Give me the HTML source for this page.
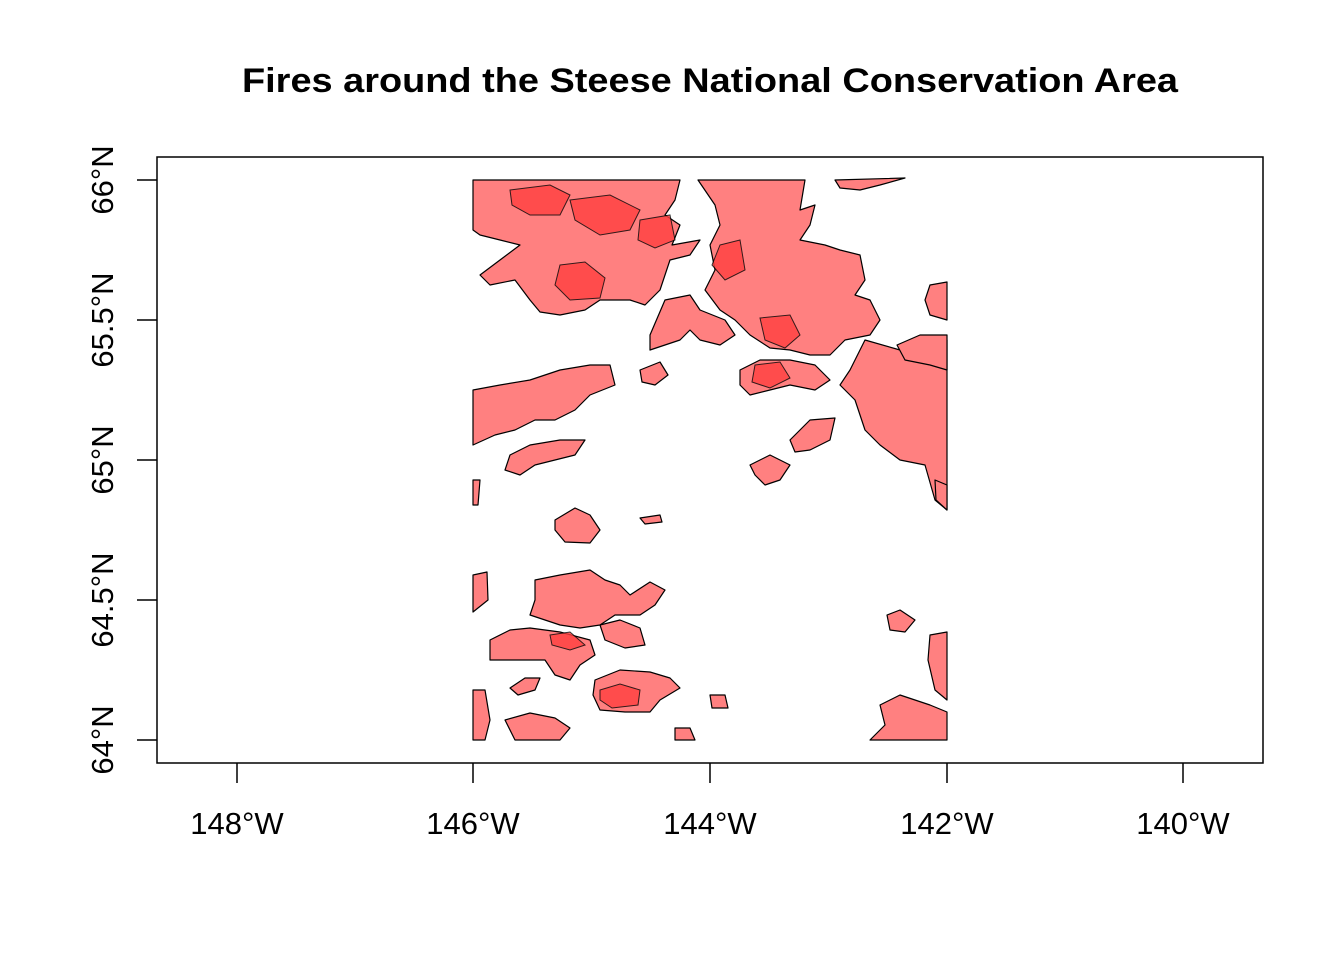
<!DOCTYPE html>
<html><head><meta charset="utf-8"><style>
body{margin:0;background:#fff}
svg{display:block}
text{font-family:"Liberation Sans",Arial,sans-serif}
</style></head><body>
<svg width="1344" height="960" viewBox="0 0 1344 960" xmlns="http://www.w3.org/2000/svg">
<rect width="1344" height="960" fill="#fff"/>
<text x="710" y="92" text-anchor="middle" font-size="34" font-weight="bold" textLength="936" lengthAdjust="spacingAndGlyphs">Fires around the Steese National Conservation Area</text>
<rect x="157" y="157" width="1106" height="606" fill="none" stroke="#000" stroke-width="1.5"/>
<g stroke="#000" stroke-width="1.5">
<line x1="237" y1="763" x2="237" y2="783"/><line x1="473" y1="763" x2="473" y2="783"/><line x1="710" y1="763" x2="710" y2="783"/><line x1="947" y1="763" x2="947" y2="783"/><line x1="1183" y1="763" x2="1183" y2="783"/>
<line x1="157" y1="180" x2="137" y2="180"/><line x1="157" y1="320" x2="137" y2="320"/><line x1="157" y1="460" x2="137" y2="460"/><line x1="157" y1="600" x2="137" y2="600"/><line x1="157" y1="740" x2="137" y2="740"/>
</g>
<g font-size="31" text-anchor="middle">
<text x="237" y="834">148°W</text><text x="473" y="834">146°W</text><text x="710" y="834">144°W</text><text x="947" y="834">142°W</text><text x="1183" y="834">140°W</text>
<text transform="translate(113,180) rotate(-90)">66°N</text>
<text transform="translate(113,320) rotate(-90)">65.5°N</text>
<text transform="translate(113,460) rotate(-90)">65°N</text>
<text transform="translate(113,600) rotate(-90)">64.5°N</text>
<text transform="translate(113,740) rotate(-90)">64°N</text>
</g>
<g fill="#FF8080" stroke="#000" stroke-width="1.2" stroke-linejoin="round">
<path d="M473 180 L680 180 L675 200 L665 215 L680 225 L672 245 L700 240 L690 255 L670 260 L660 290 L645 305 L630 300 L600 300 L585 310 L560 315 L540 312 L530 300 L515 280 L490 285 L480 275 L500 260 L520 245 L500 240 L480 235 L473 230 Z"/>
<path d="M698 180 L805 180 L800 210 L815 205 L810 225 L800 240 L825 245 L840 250 L860 255 L865 280 L855 295 L870 300 L880 320 L870 335 L845 340 L830 355 L810 355 L790 350 L770 348 L750 335 L735 320 L720 310 L705 290 L715 270 L710 245 L720 225 L715 205 Z"/>
<path d="M835 180 L905 178 L880 185 L860 190 L840 188 Z"/>
<path d="M865 340 L900 350 L930 345 L947 340 L947 510 L935 500 L925 465 L900 460 L880 445 L865 430 L855 400 L840 385 L850 370 Z"/>
<path d="M897 345 L920 335 L947 335 L947 370 L930 365 L905 360 Z"/>
<path d="M930 285 L947 282 L947 320 L930 315 L925 300 Z"/>
<path d="M473 390 L500 385 L530 380 L560 370 L590 365 L610 365 L615 385 L590 395 L575 410 L555 420 L535 420 L515 430 L495 435 L473 445 Z"/>
<path d="M510 455 L530 445 L560 440 L585 440 L575 455 L555 460 L535 465 L520 475 L505 470 Z"/>
<path d="M665 300 L690 295 L700 310 L725 320 L735 335 L720 345 L700 340 L690 330 L680 340 L665 345 L650 350 L650 335 Z"/>
<path d="M740 370 L760 360 L790 360 L815 365 L830 380 L815 390 L790 385 L770 390 L750 395 L740 385 Z"/>
<path d="M790 440 L810 420 L835 418 L830 440 L810 450 L795 452 Z"/>
<path d="M750 465 L770 455 L790 465 L780 480 L765 485 L755 475 Z"/>
<path d="M640 370 L660 362 L668 375 L655 385 L642 382 Z"/>
<path d="M555 520 L575 508 L590 515 L600 530 L590 543 L565 542 L555 530 Z"/>
<path d="M535 580 L560 575 L590 570 L605 580 L620 585 L630 595 L650 582 L665 590 L655 605 L640 615 L615 615 L600 625 L580 628 L560 625 L545 620 L530 615 L535 600 Z"/>
<path d="M490 640 L510 630 L530 628 L560 632 L590 640 L595 655 L580 665 L570 680 L555 675 L545 660 L525 660 L505 660 L490 660 Z"/>
<path d="M600 625 L620 620 L640 628 L645 645 L625 648 L605 640 Z"/>
<path d="M595 680 L620 670 L650 672 L670 678 L680 688 L660 700 L650 712 L625 712 L600 710 L593 695 Z"/>
<path d="M510 688 L525 678 L540 678 L535 690 L518 695 Z"/>
<path d="M473 575 L487 572 L488 600 L473 612 Z"/>
<path d="M473 690 L485 690 L490 720 L485 740 L473 740 Z"/>
<path d="M505 720 L530 713 L555 718 L570 728 L560 740 L515 740 Z"/>
<path d="M880 705 L900 695 L915 700 L930 705 L947 712 L947 740 L870 740 L885 725 Z"/>
<path d="M930 635 L947 632 L947 700 L935 690 L928 660 Z"/>
<path d="M887 615 L900 610 L915 620 L905 632 L890 630 Z"/>
<path d="M473 480 L480 480 L478 505 L473 505 Z"/>
<path d="M675 728 L690 728 L695 740 L675 740 Z"/>
<path d="M710 695 L725 695 L728 708 L712 708 Z"/>
<path d="M640 518 L660 515 L662 522 L645 524 Z"/>
<path d="M935 480 L947 485 L947 510 L936 500 Z"/>
</g>
<g fill="#FF4040" stroke="#000" stroke-width="1" opacity="0.8">
<path d="M510 190 L550 185 L570 195 L560 215 L530 215 L512 205 Z"/>
<path d="M570 200 L610 195 L640 210 L630 230 L600 235 L575 220 Z"/>
<path d="M640 220 L670 215 L675 240 L655 248 L638 240 Z"/>
<path d="M560 265 L585 262 L605 278 L600 298 L570 300 L555 285 Z"/>
<path d="M720 245 L740 240 L745 270 L725 280 L712 265 Z"/>
<path d="M755 365 L780 362 L790 378 L770 388 L752 382 Z"/>
<path d="M760 318 L790 315 L800 335 L785 348 L765 340 Z"/>
<path d="M600 690 L620 684 L640 690 L638 705 L612 708 L600 700 Z"/>
<path d="M550 635 L570 632 L585 645 L570 650 L552 645 Z"/>
</g>
</svg>
</body></html>
